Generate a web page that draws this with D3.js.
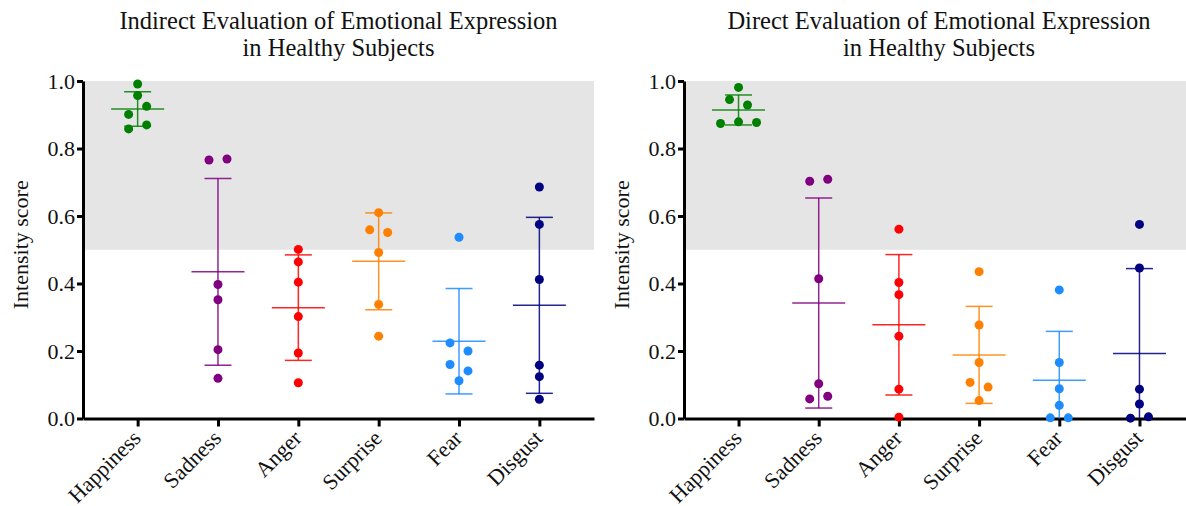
<!DOCTYPE html>
<html>
<head>
<meta charset="utf-8">
<script src="https://cdn.jsdelivr.net/npm/d3@7"></script>
<style>
  html, body { margin: 0; padding: 0; background: #fff; }
  svg { display: block; font-family: "Liberation Serif", "Times New Roman", serif; }
</style>
</head>
<body>
<div id="chart"></div>
<script>
// scores, one array per emotion
// (order inside an array = left-to-right order when dots share a row)

const categories = ['Happiness', 'Sadness', 'Anger', 'Surprise', 'Fear', 'Disgust'];
const colors = ['#008000', '#800080', '#ff0000', '#ff8000', '#1e8cff', '#000080'];
const yTicks = [0, 0.2, 0.4, 0.6, 0.8, 1.0];

const indirectHappiness = [0.991, 0.957, 0.901, 0.925, 0.858, 0.870];
const indirectSadness   = [0.766, 0.769, 0.397, 0.352, 0.204, 0.119];
const indirectAnger     = [0.501, 0.464, 0.404, 0.302, 0.194, 0.106];
const indirectSurprise  = [0.610, 0.559, 0.551, 0.492, 0.338, 0.244];
const indirectFear      = [0.537, 0.224, 0.200, 0.160, 0.141, 0.112];
const indirectDisgust   = [0.686, 0.575, 0.412, 0.158, 0.124, 0.057];

const directHappiness = [0.981, 0.945, 0.929, 0.874, 0.879, 0.877];
const directSadness   = [0.703, 0.709, 0.414, 0.103, 0.058, 0.066];
const directAnger     = [0.561, 0.403, 0.367, 0.244, 0.087, 0.004];
const directSurprise  = [0.435, 0.277, 0.166, 0.107, 0.093, 0.053];
const directFear      = [0.381, 0.166, 0.088, 0.039, 0.002, 0.002];
const directDisgust   = [0.575, 0.446, 0.087, 0.043, 0.001, 0.005];

const panels = [
  {
    title: ['Indirect Evaluation of Emotional Expression', 'in Healthy Subjects'],
    series: [indirectHappiness, indirectSadness, indirectAnger, indirectSurprise, indirectFear, indirectDisgust],
    left: 83, right: 594
  },
  {
    title: ['Direct Evaluation of Emotional Expression', 'in Healthy Subjects'],
    series: [directHappiness, directSadness, directAnger, directSurprise, directFear, directDisgust],
    left: 684, right: 1194
  }
];

const WIDTH = 1186;
const HEIGHT = 506;
const TOP = 81;
const BOTTOM = 418.5;
const DOT_R = 4.5;
const ROW_GAP = 9.5;   // dots closer than this (px) share a row
const COL_STEP = 18;   // horizontal spacing of dots in a row

const svg = d3.select('#chart').append('svg')
  .attr('width', WIDTH)
  .attr('height', HEIGHT);

// group dots of one column into rows and spread them sideways
function spread(values, y) {
  const order = d3.range(values.length).sort((a, b) => values[b] - values[a]);
  const offsets = new Array(values.length).fill(0);
  let i = 0;
  while (i < order.length) {
    const row = [order[i]];
    let j = i + 1;
    while (j < order.length && Math.abs(y(values[order[j]]) - y(values[order[i]])) < ROW_GAP) {
      row.push(order[j]);
      j++;
    }
    row.sort((a, b) => a - b);
    row.forEach((idx, k) => { offsets[idx] = (k - (row.length - 1) / 2) * COL_STEP; });
    i = j;
  }
  return values.map((v, idx) => ({ v, dx: offsets[idx] }));
}

function drawPanel(p) {
  const g = svg.append('g');

  const x = d3.scalePoint()
    .domain(categories)
    .range([p.left, p.right])
    .padding(0.68);

  const y = d3.scaleLinear()
    .domain([0, 1])
    .range([BOTTOM, TOP]);

  // shaded band above 0.5
  g.append('rect')
    .attr('x', p.left)
    .attr('y', y(1))
    .attr('width', p.right - p.left)
    .attr('height', y(0.5) - y(1))
    .attr('fill', '#e5e5e5');

  // titles
  const midX = (p.left + p.right) / 2;
  g.selectAll('text.title')
    .data(p.title)
    .enter()
    .append('text')
    .attr('class', 'title')
    .attr('x', midX)
    .attr('y', (d, i) => 28.5 + i * 27)
    .attr('text-anchor', 'middle')
    .attr('font-size', 24.5)
    .attr('fill', '#111')
    .text(d => d);

  // y label
  g.append('text')
    .attr('transform', `translate(${p.left - 55},${(TOP + BOTTOM) / 2 - 5}) rotate(-90)`)
    .attr('text-anchor', 'middle')
    .attr('font-size', 22)
    .attr('fill', '#111')
    .text('Intensity score');

  // axes
  const yAxis = g.append('g')
    .attr('transform', `translate(${p.left},0)`)
    .call(d3.axisLeft(y).tickValues(yTicks).tickFormat(d3.format('.1f')).tickSize(6).tickSizeOuter(0).tickPadding(2));

  const xAxis = g.append('g')
    .attr('transform', `translate(0,${BOTTOM})`)
    .call(d3.axisBottom(x).tickSize(8).tickSizeOuter(0));

  [yAxis, xAxis].forEach(a => {
    a.select('.domain').attr('stroke', '#000').attr('stroke-width', 3);
    a.selectAll('.tick line').attr('stroke', '#000').attr('stroke-width', 3);
    a.selectAll('.tick text')
      .attr('font-size', 22)
      .attr('fill', '#111')
      .attr('font-family', '"Liberation Serif", "Times New Roman", serif');
  });

  xAxis.selectAll('.tick text')
    .attr('text-anchor', 'end')
    .attr('dy', 0)
    .attr('y', 0)
    .attr('transform', 'translate(4,21) rotate(-45)');

  // mean +/- SD and dots
  const cols = g.selectAll('g.col')
    .data(p.series.map((values, i) => ({ cat: categories[i], color: colors[i], values })))
    .enter()
    .append('g')
    .attr('class', 'col');

  cols.each(function (d) {
    const c = d3.select(this);
    const cx = x(d.cat);
    const m = d3.mean(d.values);
    const sd = d3.deviation(d.values);
    const hi = Math.min(m + sd, 1);
    const lo = Math.max(m - sd, 0);

    c.append('line')
      .attr('x1', cx).attr('x2', cx)
      .attr('y1', y(hi)).attr('y2', y(lo))
      .attr('stroke', d.color).attr('stroke-width', 1.5).attr('opacity', 0.85);

    const caps = [{ v: m, w: 26.5 }];
    if (m + sd <= 1) caps.push({ v: m + sd, w: 13.5 });
    if (m - sd >= 0) caps.push({ v: m - sd, w: 13.5 });

    c.selectAll('line.cap')
      .data(caps)
      .enter()
      .append('line')
      .attr('class', 'cap')
      .attr('x1', k => cx - k.w).attr('x2', k => cx + k.w)
      .attr('y1', k => y(k.v)).attr('y2', k => y(k.v))
      .attr('stroke', d.color).attr('stroke-width', 1.5).attr('opacity', 0.85);

    c.selectAll('circle')
      .data(spread(d.values, y))
      .enter()
      .append('circle')
      .attr('cx', k => cx + k.dx)
      .attr('cy', k => y(k.v))
      .attr('r', DOT_R)
      .attr('fill', d.color);
  });
}

panels.forEach(drawPanel);
</script>
</body>
</html>
